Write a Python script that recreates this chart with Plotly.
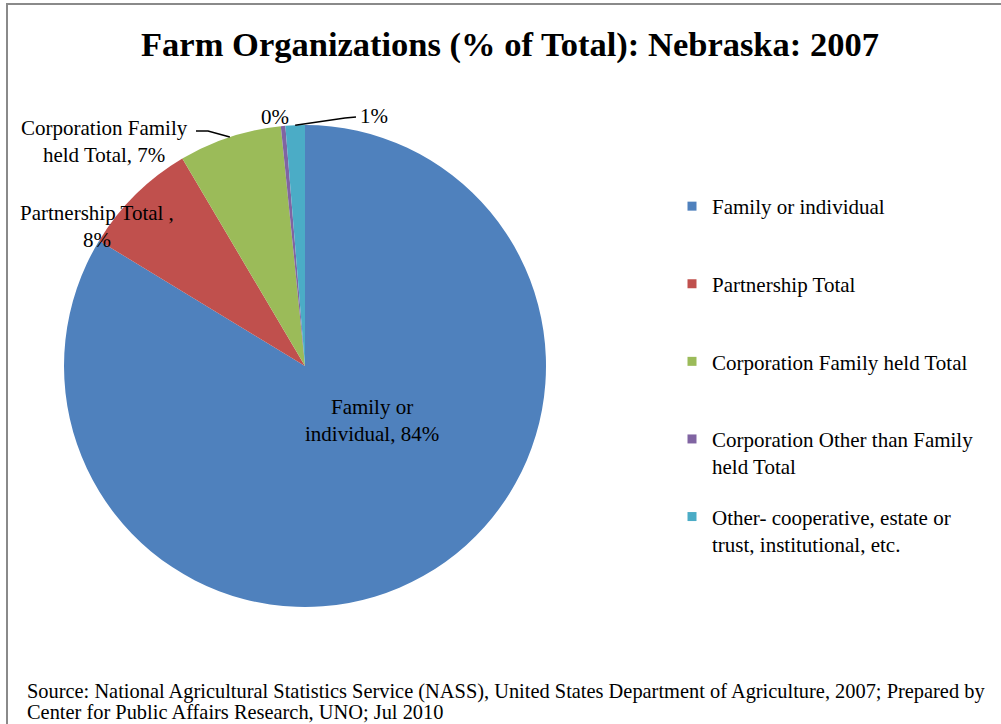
import math
import plotly.graph_objects as go

# ---- data ----
categories = [
    "Family or individual",
    "Partnership Total",
    "Corporation Family held Total",
    "Corporation Other than Family held Total",
    "Other- cooperative, estate or trust, institutional, etc.",
]
values = [83.7, 7.8, 6.9, 0.3, 1.3]
legend_names = [
    "Family or individual<br>\u00a0",
    "Partnership Total<br>\u00a0",
    "Corporation Family held Total<br>\u00a0",
    "Corporation Other than Family<br>held Total",
    "Other- cooperative, estate or<br>trust, institutional, etc.",
]
colors = ["#4F81BD", "#C0504D", "#9BBB59", "#8064A2", "#4BACC6"]
source_lines = [
    "Source: National Agricultural Statistics Service (NASS), United States Department of Agriculture, 2007; Prepared by",
    "Center for Public Affairs Research, UNO; Jul 2010",
]

W, H = 1001, 724
SERIF = "Liberation Serif, Times New Roman, serif"


def px(x):
    return x / W


def py(y):
    return 1 - y / H


# pie geometry (pixels)
CX, CY, R = 305, 366, 241

total = sum(values)
pct = [round(v / total * 100) for v in values]

fig = go.Figure()
fig.add_trace(go.Pie(
    labels=categories,
    values=values,
    sort=False,
    direction="clockwise",
    rotation=0,
    marker=dict(colors=colors, line=dict(width=0)),
    textinfo="none",
    hoverinfo="label+percent",
    showlegend=False,
    domain=dict(x=[px(CX - R), px(CX + R)], y=[py(CY + R), py(CY - R)]),
))

# legend entries
for i, (nm, c) in enumerate(zip(legend_names, colors)):
    fig.add_trace(go.Scatter(
        x=[None], y=[None], mode="markers",
        marker=dict(symbol="square", size=9, color=c),
        name=nm, legendgroup=str(i), showlegend=True, hoverinfo="skip",
    ))


def slice_mid_point(idx, r):
    start = sum(values[:idx]) / total * 360
    mid = start + values[idx] / total * 360 / 2
    a = math.radians(mid)
    return CX + r * math.sin(a), CY - r * math.cos(a)


annotations = []
font = dict(family=SERIF, size=21, color="black")


def label(x, y, text):
    annotations.append(dict(
        x=px(x), y=py(y), xref="paper", yref="paper", text=text,
        showarrow=False, font=font, align="center",
        xanchor="center", yanchor="middle",
    ))


label(372, 420, f"Family or<br>individual, {pct[0]}%")
label(97, 226, f"Partnership Total ,<br>{pct[1]}%")
label(104, 141, f"Corporation Family<br>held Total, {pct[2]}%")
label(275, 117, f"{pct[3]}%")
label(374, 116, f"{pct[4]}%")

# source note
for i, line in enumerate(source_lines):
    annotations.append(dict(
        x=px(25), y=py(691 + 21 * i), xref="paper", yref="paper",
        text=line, showarrow=False,
        font=dict(family=SERIF, size=20.4, color="black"),
        align="left", xanchor="left", yanchor="middle",
    ))

shapes = []
# outer chart border
shapes.append(dict(type="rect", xref="paper", yref="paper",
                   x0=px(7), x1=1.02, y0=-0.02, y1=py(4),
                   line=dict(color="#8a8a8a", width=2), fillcolor="rgba(0,0,0,0)"))

# leader lines
gx, gy = slice_mid_point(2, R)
shapes.append(dict(type="path", xref="paper", yref="paper",
                   path=f"M {px(196)},{py(131)} L {px(208)},{py(131)} L {px(gx)},{py(gy)}",
                   line=dict(color="black", width=1.5)))
cx_, cy_ = slice_mid_point(4, R)
shapes.append(dict(type="path", xref="paper", yref="paper",
                   path=f"M {px(cx_)},{py(cy_)} L {px(345)},{py(118)} L {px(356)},{py(117)}",
                   line=dict(color="black", width=1.5)))

fig.update_layout(
    width=W, height=H, autosize=False,
    margin=dict(l=0, r=0, t=0, b=0),
    paper_bgcolor="white", plot_bgcolor="white",
    title=dict(text="<b>Farm Organizations (% of Total): Nebraska: 2007</b>",
               x=510 / W, xanchor="center", y=py(44), yanchor="middle",
               font=dict(family=SERIF, size=34.5, color="black")),
    xaxis=dict(visible=False), yaxis=dict(visible=False),
    legend=dict(x=px(672), y=py(186), xanchor="left", yanchor="top",
                font=dict(family=SERIF, size=21, color="black"),
                valign="top", traceorder="grouped", tracegroupgap=20,
                bgcolor="rgba(0,0,0,0)"),
    annotations=annotations,
    shapes=shapes,
)

fig.write_html("out.html", config={"displayModeBar": False},
               post_script="document.body.style.margin='0';")
